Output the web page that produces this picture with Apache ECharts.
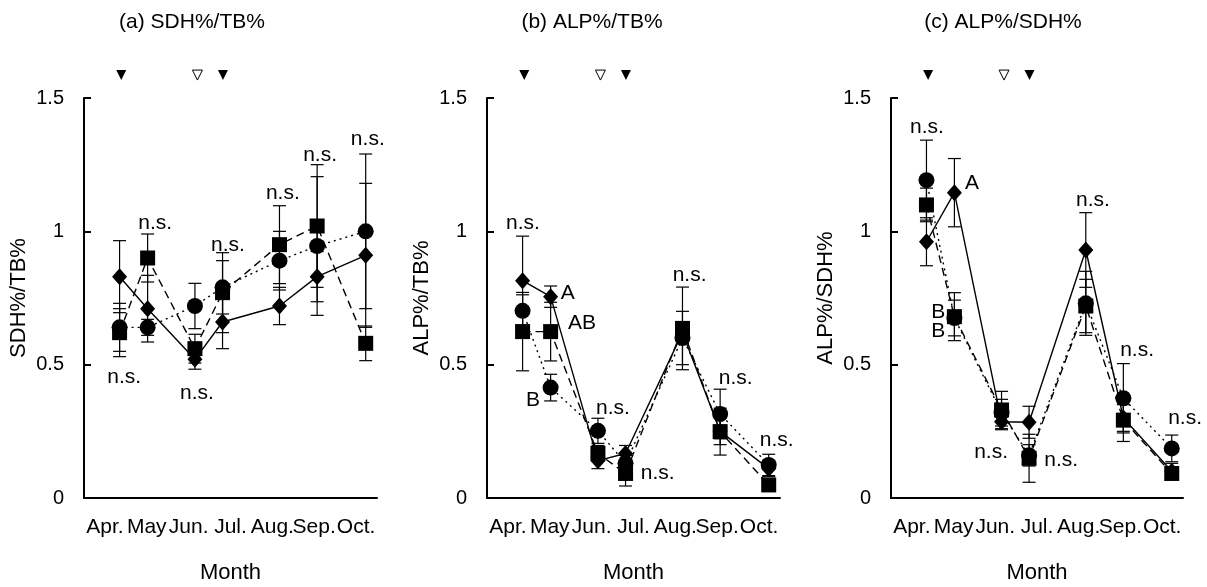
<!DOCTYPE html>
<html>
<head>
<meta charset="utf-8">
<script src="https://cdn.jsdelivr.net/npm/echarts@6/dist/echarts.min.js"></script>
<style>
  html, body { margin: 0; padding: 0; background: #fff; }
  #main { width: 1207px; height: 587px; }
</style>
</head>
<body>
<div id="main"></div>
<script>
  // month categories and sampling dates (fractional month position on the axis)
  const months = ['Apr.', 'May', 'Jun.', 'Jul.', 'Aug.', 'Sep.', 'Oct.'];
  const sampleX = [0.85, 1.52, 2.65, 3.31, 4.67, 5.57, 6.73];
  const eventX = [0.89, 2.71, 3.32];
  const eventFilled = [true, false, true];
  const eventY = 1.586;

  // (a) SDH%/TB%
  const diamondA = [0.83, 0.71, 0.52, 0.66, 0.72, 0.83, 0.91];
  const diamondSdA = [0.135, 0.125, 0.037, 0.10, 0.07, 0.094, 0.27];
  const squareA = [0.62, 0.90, 0.56, 0.77, 0.95, 1.02, 0.58];
  const squareSdA = [0.09, 0.09, 0.054, 0.15, 0.146, 0.23, 0.065];
  const circleA = [0.64, 0.64, 0.72, 0.79, 0.89, 0.945, 1.0];
  const circleSdA = [0.09, 0.03, 0.085, 0.10, 0.11, 0.26, 0.29];
  const notesA = [[0.96, 0.454, 'n.s.'], [1.70, 1.031, 'n.s.'], [2.70, 0.394, 'n.s.'], [3.44, 0.949, 'n.s.'],
                  [4.75, 1.144, 'n.s.'], [5.64, 1.286, 'n.s.'], [6.78, 1.346, 'n.s.']];

  // (b) ALP%/TB%
  const diamondB = [0.815, 0.755, 0.14, 0.167, 0.62, 0.25, 0.11];
  const diamondSdB = [0.167, 0.04, 0.03, 0.03, 0.04, 0.05, 0.03];
  const squareB = [0.624, 0.624, 0.167, 0.092, 0.636, 0.249, 0.049];
  const squareSdB = [0.147, 0.11, 0.03, 0.047, 0.155, 0.088, 0.02];
  const circleB = [0.702, 0.414, 0.252, 0.13, 0.60, 0.315, 0.124];
  const circleSdB = [0.06, 0.05, 0.047, 0.03, 0.10, 0.093, 0.04];
  const notesB = [[0.86, 1.031, 'n.s.'], [3.01, 0.337, 'n.s.'], [4.08, 0.094, 'n.s.'], [4.84, 0.836, 'n.s.'],
                  [5.94, 0.45, 'n.s.'], [6.92, 0.217, 'n.s.'], [1.93, 0.769, 'A'], [2.27, 0.656, 'AB'], [1.10, 0.367, 'B']];

  // (c) ALP%/SDH%
  const diamondC = [0.961, 1.145, 0.286, 0.284, 0.93, 0.30, 0.10];
  const diamondSdC = [0.09, 0.128, 0.03, 0.06, 0.14, 0.05, 0.03];
  const squareC = [1.099, 0.68, 0.33, 0.149, 0.72, 0.292, 0.092];
  const squareSdC = [0.063, 0.09, 0.07, 0.09, 0.10, 0.08, 0.02];
  const circleC = [1.192, 0.675, 0.32, 0.16, 0.73, 0.374, 0.186];
  const circleSdC = [0.15, 0.067, 0.05, 0.04, 0.12, 0.13, 0.05];
  const notesC = [[0.86, 1.391, 'n.s.'], [2.40, 0.172, 'n.s.'], [4.08, 0.142, 'n.s.'], [4.84, 1.117, 'n.s.'],
                  [5.90, 0.555, 'n.s.'], [7.05, 0.30, 'n.s.'], [1.94, 1.181, 'A'], [1.13, 0.697, 'B'], [1.13, 0.626, 'B']];

  const panels = [
    { title: '(a) SDH%/TB%', titleX: 192, yName: 'SDH%/TB%', left: 84, width: 293,
      d: diamondA, dSd: diamondSdA, s: squareA, sSd: squareSdA, c: circleA, cSd: circleSdA, notes: notesA },
    { title: '(b) ALP%/TB%', titleX: 592, yName: 'ALP%/TB%', left: 487, width: 293,
      d: diamondB, dSd: diamondSdB, s: squareB, sSd: squareSdB, c: circleB, cSd: circleSdB, notes: notesB },
    { title: '(c) ALP%/SDH%', titleX: 1003, yName: 'ALP%/SDH%', left: 891, width: 292,
      d: diamondC, dSd: diamondSdC, s: squareC, sSd: squareSdC, c: circleC, cSd: circleSdC, notes: notesC }
  ];

  const font = "'Liberation Sans', Arial, sans-serif";
  const chart = echarts.init(document.getElementById('main'));

  function renderBar(params, api) {
    const top = api.coord([api.value(0), api.value(2)]);
    const bot = api.coord([api.value(0), api.value(1)]);
    const w = 6.5;
    const style = { stroke: '#000', lineWidth: 1.2 };
    return {
      type: 'group',
      children: [
        { type: 'line', shape: { x1: top[0], y1: top[1], x2: bot[0], y2: bot[1] }, style: style },
        { type: 'line', shape: { x1: top[0] - w, y1: top[1], x2: top[0] + w, y2: top[1] }, style: style },
        { type: 'line', shape: { x1: bot[0] - w, y1: bot[1], x2: bot[0] + w, y2: bot[1] }, style: style }
      ]
    };
  }

  const grids = [], xAxes = [], yAxes = [], series = [], graphics = [];

  panels.forEach((p, i) => {
    grids.push({ left: p.left, top: 98, width: p.width, height: 400, outerBoundsMode: 'none' });

    xAxes.push({
      type: 'category', gridIndex: i, data: months, boundaryGap: true,
      name: 'Month', nameLocation: 'middle', nameGap: 64,
      nameTextStyle: { fontFamily: font, fontSize: 22, color: '#000' },
      axisLine: { lineStyle: { color: '#000', width: 2 } },
      axisTick: { inside: true, length: 7, lineStyle: { color: '#000', width: 2 } },
      axisLabel: { interval: 0, fontFamily: font, fontSize: 21, color: '#000', margin: 19, hideOverlap: false }
    });
    xAxes.push({ type: 'value', gridIndex: i, min: 0, max: 7, show: false });

    yAxes.push({
      type: 'value', gridIndex: i, min: 0, max: 1.5, interval: 0.5,
      name: p.yName, nameLocation: 'middle', nameGap: 54, nameRotate: 90,
      nameTextStyle: { fontFamily: font, fontSize: 22, color: '#000' },
      axisLine: { show: true, lineStyle: { color: '#000', width: 2 } },
      axisTick: { show: true, inside: true, length: 7, lineStyle: { color: '#000', width: 2 } },
      axisLabel: { fontFamily: font, fontSize: 20, color: '#000', margin: 20 },
      splitLine: { show: false }
    });

    const xi = 2 * i + 1;
    const groups = [
      { v: p.d, sd: p.dSd, symbol: 'diamond', size: [15, 17], dash: 'solid' },
      { v: p.s, sd: p.sSd, symbol: 'rect', size: 15, dash: [8, 5] },
      { v: p.c, sd: p.cSd, symbol: 'circle', size: 16, dash: [2, 4] }
    ];

    groups.forEach(g => {
      series.push({
        type: 'custom', xAxisIndex: xi, yAxisIndex: i, renderItem: renderBar,
        encode: { x: 0, y: [1, 2] }, clip: false,
        data: sampleX.map((x, k) => [x, g.v[k] - g.sd[k], g.v[k] + g.sd[k]]),
        silent: true
      });
    });
    groups.forEach(g => {
      series.push({
        type: 'line', xAxisIndex: xi, yAxisIndex: i,
        data: sampleX.map((x, k) => [x, g.v[k]]),
        symbol: g.symbol, symbolSize: g.size, showAllSymbol: true,
        itemStyle: { color: '#000', opacity: 1 },
        lineStyle: { color: '#000', width: 1.4, type: g.dash }
      });
    });

    series.push({
      type: 'scatter', xAxisIndex: xi, yAxisIndex: i, clip: false,
      symbol: 'triangle', symbolRotate: 180, symbolSize: 10,
      data: eventX.map((x, k) => ({
        value: [x, eventY],
        itemStyle: eventFilled[k]
          ? { color: '#000', opacity: 1 }
          : { color: '#fff', borderColor: '#000', borderWidth: 1, opacity: 1 }
      }))
    });

    series.push({
      type: 'scatter', xAxisIndex: xi, yAxisIndex: i, clip: false,
      symbolSize: 1, itemStyle: { color: 'rgba(0,0,0,0)', opacity: 1 },
      data: p.notes,
      label: {
        show: true, position: 'inside', formatter: d => d.data[2],
        fontFamily: font, fontSize: 21, color: '#000', textBorderWidth: 0
      },
      silent: true
    });

    graphics.push({
      type: 'text', x: p.titleX, y: 22,
      style: { text: p.title, font: '21px ' + font, fill: '#000', textAlign: 'center', textVerticalAlign: 'middle' }
    });
  });

  chart.setOption({
    animation: false,
    grid: grids,
    xAxis: xAxes,
    yAxis: yAxes,
    series: series,
    graphic: graphics
  });
</script>
</body>
</html>
